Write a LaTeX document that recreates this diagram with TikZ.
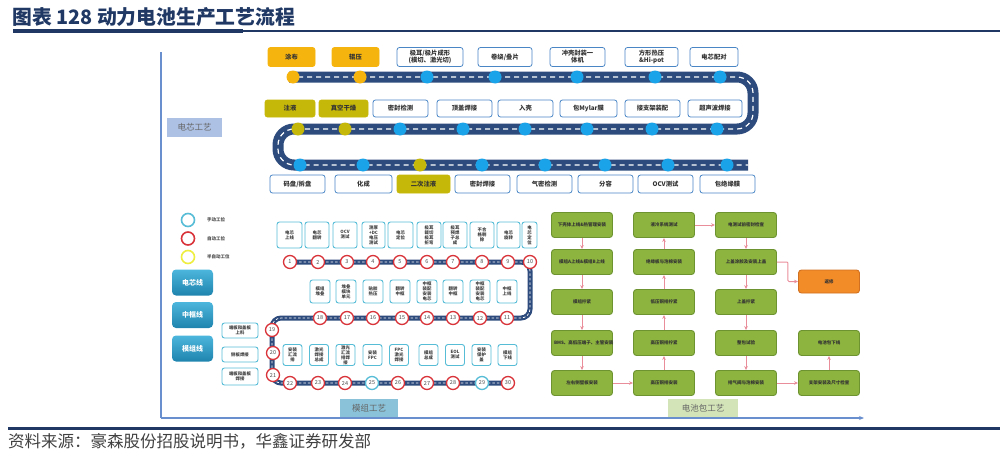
\documentclass[tikz,border=0pt]{standalone}
\usepackage{fontspec}
\setmainfont{Noto Sans CJK SC}
\usetikzlibrary{arrows.meta,calc}
\definecolor{navy}{HTML}{1F3864}
\definecolor{road}{HTML}{2D4B7C}
\definecolor{orng}{HTML}{F6B40E}
\definecolor{olive}{HTML}{C6B808}
\definecolor{cblue}{HTML}{1AA3E8}
\definecolor{cbord}{HTML}{4A86C5}
\definecolor{mbord}{HTML}{57BCD6}
\definecolor{mred}{HTML}{D9343A}
\definecolor{myel}{HTML}{EEEE40}
\definecolor{gfill}{HTML}{8DB43E}
\definecolor{gbord}{HTML}{6D9330}
\definecolor{pink}{HTML}{E98D9A}
\definecolor{axis}{HTML}{6A8FCF}
\definecolor{rfill}{HTML}{F28C28}
\definecolor{rbord}{HTML}{D07020}
\definecolor{teal1}{HTML}{4DB6DC}
\definecolor{teal2}{HTML}{1E84AE}
\begin{document}
\begin{tikzpicture}[x=1pt,y=-1pt,
  cbox/.style={draw=cbord, line width=0.8, rounded corners=2.5, fill=white, align=center,
    font=\fontsize{6.3}{7}\selectfont\bfseries, text=black!80, inner sep=0},
  obox/.style={cbox, draw=orng, fill=orng},
  ybox/.style={cbox, draw=olive, fill=olive},
  ccirc/.style={circle, fill=#1, draw=none, minimum size=13, inner sep=0},
  roadline/.style={line width=11, draw=road, rounded corners=16},
  roaddash/.style={line width=1.2, draw=white, dash pattern=on 5 off 4, rounded corners=16},
  mroad/.style={line width=5, draw=road, rounded corners=9},
  mdash/.style={line width=0.7, draw=white, dash pattern=on 2.5 off 2, rounded corners=9},
  mbox/.style={draw=mbord, line width=0.9, rounded corners=2.5, fill=white, align=center,
    font=\fontsize{4.4}{5}\selectfont\bfseries, text=black!75, inner sep=0},
  mc/.style={circle, draw=#1, line width=1.3, fill=white, minimum size=13, inner sep=0,
    font=\fontsize{5.5}{6}\selectfont, text=black!70},
  lc/.style={circle, draw=#1, line width=1.6, fill=white, minimum size=13, inner sep=0},
  lbtn/.style={rounded corners=4, top color=teal1, bottom color=teal2, draw=none,
    minimum width=41, minimum height=26, text=white, font=\fontsize{7}{8}\selectfont\bfseries},
  gbox/.style={draw=gbord, line width=0.9, rounded corners=3, fill=gfill, align=center,
    minimum width=61, minimum height=25, text width=56, inner sep=0,
    font=\fontsize{4.5}{5.5}\selectfont\bfseries, text=black!80},
  parr/.style={draw=pink, line width=1, -{Stealth[length=4pt,width=3.5pt]}},
  tag/.style={inner sep=0, align=center, font=\fontsize{8.5}{9}\selectfont, text=black!60}
]
\useasboundingbox (0,0) rectangle (1000,455);

% title
\node[anchor=west, inner sep=0, text=navy, font=\fontsize{19.8}{21}\selectfont\bfseries] (title) at (12,17) {图表 128 动力电池生产工艺流程};
\draw[navy, line width=4] (13,31) -- (243,31);
\draw[navy, line width=1.3] (243,31) -- (1000,31);
\draw[navy, line width=3.5] (8,428.5) -- (1000,428.5);
\node[anchor=west, inner sep=0, text=black!75, font=\fontsize{16.5}{17}\selectfont] (src) at (8,441) {资料来源：豪森股份招股说明书，华鑫证券研发部};

% axes
\coordinate (ax0) at (161,52);
\coordinate (ax1) at (161,418);
\coordinate (ax2) at (864,418);
\draw[axis, line width=1.5] (ax0) -- (ax1);
\draw[axis, line width=1.5, -{Stealth[length=5pt,width=4pt]}] (ax1) -- (ax2);

\node[tag, fill=axis!55, minimum width=55, minimum height=19] (t1) at (194.5,127.5) {电芯工艺};
\node[tag, fill=cyan!45!white!85!black, minimum width=58, minimum height=18] (t2) at (369,408) {模组工艺};
\node[tag, fill=green!40!yellow!20!white!90!black, minimum width=70, minimum height=18] (t3) at (703,408) {电池包工艺};

% ---------- cell road ----------
\draw[roadline] (289,77) -- (753,77) -- (753,129) -- (278,129) -- (278,165) -- (748,165);
\draw[roaddash] (289,77) -- (753,77) -- (753,129) -- (278,129) -- (278,165) -- (748,165);

\foreach \x/\c [count=\i] in {293/orng,360/orng,427/cblue,495/cblue,577/cblue,655/cblue,720/cblue}
  \node[ccirc=\c] (ra\i) at (\x,77) {};
\foreach \x/\c [count=\i] in {298/olive,345/olive,400/cblue,463/cblue,525/cblue,587/cblue,652/cblue,717/cblue}
  \node[ccirc=\c] (rb\i) at (\x,129) {};
\foreach \x/\c [count=\i] in {300/cblue,363/cblue,420/olive,482/cblue,545/cblue,605/cblue,668/cblue,727/cblue}
  \node[ccirc=\c] (rc\i) at (\x,165) {};

% row 1 boxes
\node[obox, minimum width=47, minimum height=19] (a1) at (291.5,57) {涂布};
\node[obox, minimum width=47, minimum height=19] (a2) at (355.5,57) {辊压};
\node[cbox, minimum width=66, minimum height=19] (a3) at (430,57) {极耳/极片成形\\(模切、激光切)};
\node[cbox, minimum width=54, minimum height=19] (a4) at (505,57) {卷绕/叠片};
\node[cbox, minimum width=55, minimum height=19] (a5) at (577.5,57) {冲壳封装一\\体机};
\node[cbox, minimum width=53, minimum height=19] (a6) at (651.5,57) {方形热压\\\&Hi-pot};
\node[cbox, minimum width=48, minimum height=19] (a7) at (714,57) {电芯配对};
% row 2 boxes
\node[ybox, minimum width=50, minimum height=17] (b1) at (290,108.5) {注液};
\node[ybox, minimum width=49, minimum height=17] (b2) at (343.5,108.5) {真空干燥};
\node[cbox, minimum width=55, minimum height=17] (b3) at (400.5,108.5) {密封检测};
\node[cbox, minimum width=55, minimum height=17] (b4) at (464.5,108.5) {顶盖焊接};
\node[cbox, minimum width=55, minimum height=17] (b5) at (525.5,108.5) {入壳};
\node[cbox, minimum width=57, minimum height=17] (b6) at (588.5,108.5) {包Mylar膜};
\node[cbox, minimum width=55, minimum height=17] (b7) at (652.5,108.5) {接支架装配};
\node[cbox, minimum width=54, minimum height=17] (b8) at (715,108.5) {超声波焊接};
% row 3 boxes
\node[cbox, minimum width=55, minimum height=18] (c1) at (297.5,184) {码盘/拆盘};
\node[cbox, minimum width=57, minimum height=18] (c2) at (363.5,184) {化成};
\node[ybox, minimum width=53, minimum height=18] (c3) at (423.5,184) {二次注液};
\node[cbox, minimum width=55, minimum height=18] (c4) at (482.5,184) {密封焊接};
\node[cbox, minimum width=55, minimum height=18] (c5) at (544.5,184) {气密检测};
\node[cbox, minimum width=55, minimum height=18] (c6) at (605.5,184) {分容};
\node[cbox, minimum width=55, minimum height=18] (c7) at (665.5,184) {OCV测试};
\node[cbox, minimum width=55, minimum height=18] (c8) at (727.5,184) {包绝缘膜};

% ---------- legend ----------
\node[lc=mbord] (l1) at (188,220) {};
\node[lc=mred] (l2) at (188,238.5) {};
\node[lc=myel] (l3) at (188,257) {};
\node[anchor=west, inner sep=0, font=\fontsize{4.5}{5}\selectfont\bfseries, text=black!70] (lt1) at (207,220) {手动工位};
\node[anchor=west, inner sep=0, font=\fontsize{4.5}{5}\selectfont\bfseries, text=black!70] (lt2) at (207,238.5) {自动工位};
\node[anchor=west, inner sep=0, font=\fontsize{4.5}{5}\selectfont\bfseries, text=black!70] (lt3) at (207,257) {半自动工位};

\node[lbtn] (btn1) at (192.5,282.5) {电芯线};
\node[lbtn] (btn2) at (192.5,315) {中框线};
\node[lbtn] (btn3) at (192.5,348.5) {模组线};

\node[mbox, minimum width=36, minimum height=15] (s1) at (240,330.5) {端板和盖板\\上料};
\node[mbox, minimum width=36, minimum height=15] (s2) at (240,354.5) {侧板焊接};
\node[mbox, minimum width=36, minimum height=17] (s3) at (240,376.5) {端板和盖板\\焊接};

% ---------- module road ----------
\draw[mroad] (290,262) -- (530,262) -- (530,318) -- (272,318) -- (272,383) -- (508,383);
\draw[mdash] (290,262) -- (530,262) -- (530,318) -- (272,318) -- (272,383) -- (508,383);

\foreach \n/\x/\y/\s in {1/290/262/mred,2/318/262/mred,3/347/262/mred,4/373/262/mred,5/400/262/mred,
  6/427/262/mred,7/453/262/mred,8/482/262/mred,9/508/262/mred,10/530/262/mred,
  11/507/318/mred,12/480/318/mred,13/453/318/mred,14/427/318/mred,15/402/318/mred,
  16/373/318/mred,17/347/318/mred,18/320/318/mred,19/272/330/mred,20/273/353/mred,21/273/375/mred,
  22/290/383/mred,23/318/383/mred,24/345/383/mred,25/372/383/mbord,26/398/383/mred,
  27/427/383/mred,28/453/383/mred,29/482/383/mbord,30/508/383/mred}
  \node[mc=\s] (m\n) at (\x,\y) {\n};

% module boxes row 1
\foreach \x/\w/\t [count=\i] in {289.5/25/{电芯\\上线},317/24/{电芯\\翻转},345/24/{OCV\\测试},373.5/23/{测厚\\+DC\\电压\\测试},
  400.5/25/{电芯\\定位},429/24/{极耳\\裁切\\极耳\\折弯},455/24/{极耳\\预焊\\子总\\成},482/24/{不合\\格剔\\除},
  508.5/23/{电芯\\旋转},529.5/15/{电\\芯\\定\\位}}
  \node[mbox, minimum width=\w, minimum height=26] (p\i) at (\x,235) {\t};
% module boxes row 2
\foreach \x/\t [count=\i] in {507/{中框\\上线},480/{中框\\装配\\安装\\电芯},453/{翻转\\中框},427/{中框\\装配\\安装\\电芯},
  400/{翻转\\中框},373/{贴胶\\热压},346/{堆叠\\模块\\单元},320/{模组\\堆叠}}
  \node[mbox, minimum width=20, minimum height=23] (q\i) at (\x,291.5) {\t};
% module boxes row 3
\foreach \x/\t [count=\i] in {292.5/{安装\\汇流\\排},319/{激光\\焊接\\总成},345.5/{激光\\汇流\\排焊\\接},372.5/{安装\\FPC},
  399/{FPC\\激光\\焊接},428.5/{模组\\总成},455/{EOL\\测试},481.5/{安装\\保护\\盖},507.5/{模组\\下线}}
  \node[mbox, minimum width=19, minimum height=21] (u\i) at (\x,355) {\t};

% ---------- battery pack ----------
\node[gbox] (g11) at (582,225) {下壳体上线\&热管理安装};
\node[gbox] (g12) at (582,262) {模组A上线\&模组B上线};
\node[gbox] (g13) at (582,302) {模组拧紧};
\node[gbox] (g14) at (582,343) {BMS、高低压端子、主管安装};
\node[gbox] (g15) at (582,383) {左右侧壁板安装};
\node[gbox] (g21) at (664,225) {液冷系统测试};
\node[gbox] (g22) at (664,262) {绝缘板与泡棉安装};
\node[gbox] (g23) at (664,302) {低压铜排拧紧};
\node[gbox] (g24) at (664,343) {高压铜排拧紧};
\node[gbox] (g25) at (664,383) {高压铜排安装};
\node[gbox] (g31) at (746,225) {电测试前密封检查};
\node[gbox] (g32) at (746,262) {上盖涂胶及安装上盖};
\node[gbox] (g33) at (746,302) {上盖拧紧};
\node[gbox] (g34) at (746,343) {整包试验};
\node[gbox] (g35) at (746,383) {排气阀与泡棉安装};
\node[gbox] (g44) at (829,343) {电池包下线};
\node[gbox] (g45) at (829,383) {支架安装及尺寸检查};
\node[gbox, fill=rfill, draw=rbord, minimum height=23] (fix) at (829,281.5) {返修};

\draw[parr] (g11) -- (g12);
\draw[parr] (g12) -- (g13);
\draw[parr] (g13) -- (g14);
\draw[parr] (g14) -- (g15);
\draw[parr] (g15) -- (g25);
\draw[parr] (g25) -- (g24);
\draw[parr] (g24) -- (g23);
\draw[parr] (g23) -- (g22);
\draw[parr] (g22) -- (g21);
\draw[parr] (g21) -- (g31);
\draw[parr] (g31) -- (g32);
\draw[parr] (g32) -- (g33);
\draw[parr] (g33) -- (g34);
\draw[parr] (g34) -- (g35);
\draw[parr] (g35) -- (g45);
\draw[parr] (g45) -- (g44);
\draw[parr, rounded corners=1] (g32.east) -- ++(11,0) |- (fix.west);
\end{tikzpicture}
\end{document}
